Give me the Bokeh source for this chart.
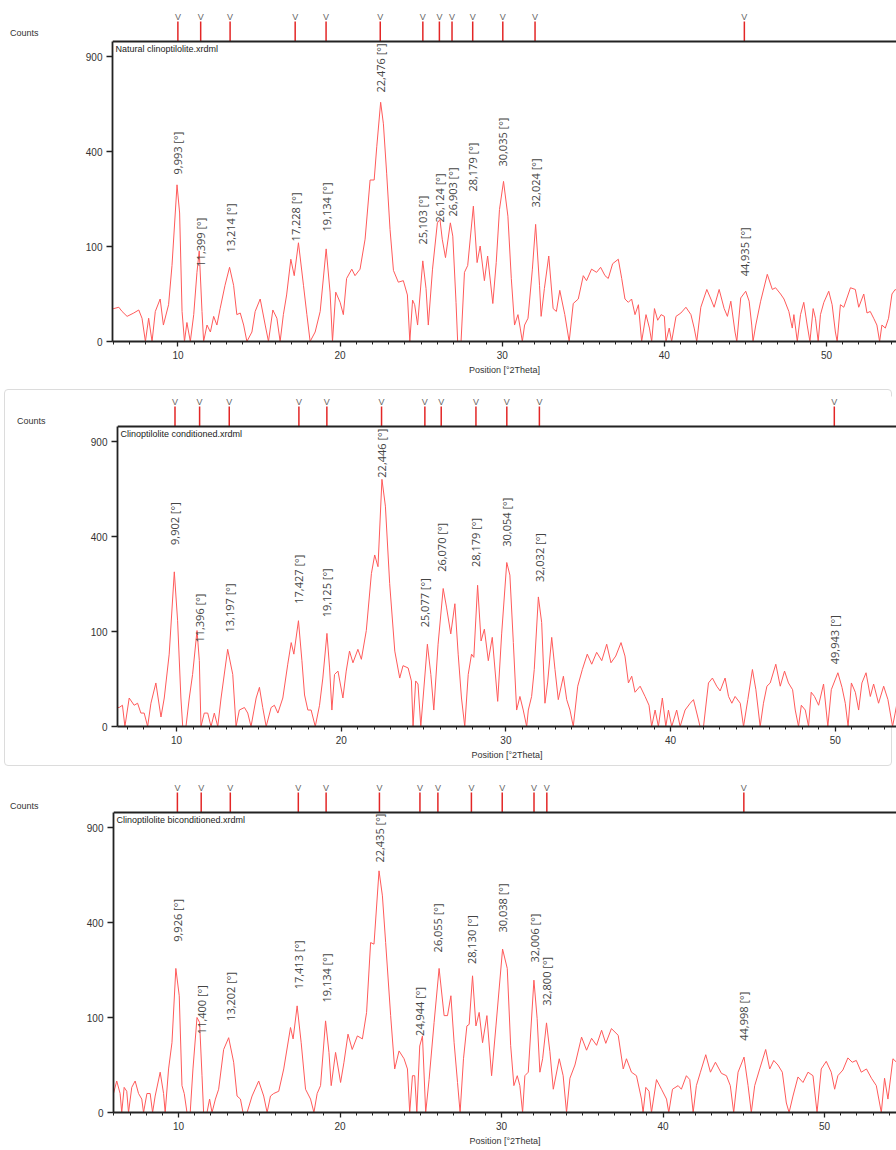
import numpy as np
from bokeh.plotting import figure
from bokeh.models import Range1d, FixedTicker, Span, Label, Div
from bokeh.layouts import column, row
from bokeh.core.properties import value
from bokeh.embed import file_html
from bokeh.resources import INLINE

# ---------------- data (2Theta in degrees, intensity in counts) ----------------
titles = ["Natural clinoptilolite.xrdml",
          "Clinoptilolite conditioned.xrdml",
          "Clinoptilolite biconditioned.xrdml"]

# Panel 1 : natural clinoptilolite
tt1 = [5.96, 6.04, 6.35, 6.55, 6.86, 7.27, 7.58, 7.78, 7.99, 8.19, 8.40, 8.60, 8.90, 9.10, 9.42, 9.63, 9.94,
       10.10, 10.25, 10.40, 10.55, 10.76, 10.97, 11.17, 11.31, 11.48, 11.58, 11.79, 12.00, 12.20, 12.40, 12.60,
       12.90, 13.18, 13.43, 13.63, 13.84, 14.05, 14.25, 14.56, 14.76, 15.07, 15.38, 15.58, 15.85, 16.10, 16.30,
       16.50, 16.70, 16.96, 17.17, 17.43, 17.74, 17.95, 18.15, 18.46, 18.77, 19.14, 19.38, 19.53, 19.73, 20.00,
       20.20, 20.40, 20.72, 20.92, 21.23, 21.54, 21.85, 22.10, 22.26, 22.50, 22.67, 22.87, 23.08, 23.29, 23.59,
       23.90, 24.15, 24.30, 24.47, 24.60, 24.78, 25.10, 25.30, 25.44, 25.70, 26.00, 26.16, 26.30, 26.50, 26.80,
       26.95, 27.15, 27.25, 27.46, 27.67, 27.87, 28.22, 28.45, 28.64, 28.90, 29.10, 29.42, 29.63, 29.83, 30.08,
       30.35, 30.56, 30.76, 30.97, 31.11, 31.24, 31.38, 31.59, 31.86, 32.06, 32.30, 32.40, 32.60, 32.87, 33.14,
       33.34, 33.55, 33.86, 34.13, 34.38, 34.69, 35.00, 35.20, 35.51, 35.82, 36.07, 36.34, 36.54, 36.81, 37.16,
       37.37, 37.57, 37.78, 37.98, 38.19, 38.40, 38.60, 38.87, 39.08, 39.22, 39.39, 39.59, 39.80, 40.00, 40.10,
       40.30, 40.45, 40.72, 41.02, 41.33, 41.64, 41.84, 42.00, 42.25, 42.62, 42.87, 43.07, 43.38, 43.69, 43.89,
       44.10, 44.36, 44.47, 44.71, 45.02, 45.23, 45.39, 45.47, 45.64, 45.94, 46.35, 46.66, 46.86, 47.17, 47.38,
       47.68, 47.89, 47.99, 48.20, 48.40, 48.60, 48.81, 48.98, 49.18, 49.32, 49.49, 49.63, 49.84, 50.14, 50.35,
       50.55, 50.66, 50.86, 51.07, 51.48, 51.78, 51.99, 52.30, 52.50, 52.70, 52.91, 53.11, 53.28, 53.42, 53.63,
       53.83, 54.04, 54.24, 54.35]
cnt1 = [12, 12, 13, 10, 7, 9, 11, 6, 0, 6, 0, 10, 20, 3, 15, 64, 272,
        183, 10, 0, 4, 0, 8, 53, 91, 10, 0, 3, 1, 7, 3, 12,
        35, 61, 35, 8, 9, 3, 0, 1, 10, 20, 3, 0, 11, 6, 0,
        8, 24, 75, 48, 108, 35, 8, 0, 1, 10, 95, 27, 0, 27, 17,
        8, 44, 58, 48, 58, 116, 289, 289, 420, 634, 525, 314, 139, 56, 39,
        41, 24, 0, 19, 15, 3, 72, 31, 3, 58, 156, 165, 116, 78, 156,
        123, 17, 0, 0, 53, 64, 203, 69, 101, 41, 81, 16, 69, 193, 284,
        174, 44, 3, 8, 2, 0, 3, 6, 58, 152, 35, 7, 31, 81, 12,
        10, 29, 8, 0, 16, 20, 48, 41, 58, 53, 61, 48, 44, 67, 75,
        44, 20, 17, 20, 8, 15, 0, 8, 2, 0, 12, 5, 8, 7, 0,
        2, 0, 7, 9, 13, 8, 2, 0, 13, 30, 20, 13, 30, 12, 7,
        18, 1, 0, 21, 28, 18, 3, 0, 3, 18, 50, 30, 32, 25, 20,
        10, 2, 8, 0, 8, 17, 3, 0, 12, 6, 0, 8, 17, 28, 15,
        1, 0, 15, 13, 32, 30, 13, 25, 9, 10, 6, 3, 0, 3, 2,
        6, 25, 30, 28]
peaks1 = [9.993, 11.399, 13.214, 17.228, 19.134, 22.476, 25.103, 26.124, 26.903, 28.179, 30.035, 32.024, 44.935]
peak_cnt1 = [309, 62, 88, 111, 134, 687, 104, 157, 173, 249, 339, 199, 47]

# Panel 2 : conditioned
tt2 = [6.41, 6.51, 6.71, 6.86, 7.12, 7.42, 7.63, 7.83, 8.03, 8.24, 8.44, 8.74, 9.05, 9.25, 9.55, 9.86,
       10.06, 10.26, 10.37, 10.57, 10.77, 10.97, 11.24, 11.38, 11.48, 11.68, 11.89, 12.09, 12.29, 12.50, 12.70,
       13.10, 13.41, 13.61, 13.81, 14.12, 14.32, 14.52, 14.83, 15.03, 15.23, 15.44, 15.74, 15.94, 16.15, 16.45,
       16.75, 16.96, 17.12, 17.40, 17.61, 17.77, 17.97, 18.17, 18.42, 18.68, 18.88, 19.13, 19.29, 19.43, 19.59,
       19.80, 20.10, 20.30, 20.50, 20.71, 21.01, 21.22, 21.52, 21.83, 22.03, 22.23, 22.47, 22.68, 22.94, 23.25,
       23.55, 23.75, 24.06, 24.26, 24.36, 24.52, 24.66, 24.83, 24.97, 25.23, 25.44, 25.62, 25.88, 26.19, 26.39,
       26.65, 26.90, 27.10, 27.30, 27.50, 27.71, 27.91, 28.05, 28.28, 28.49, 28.69, 28.93, 29.17, 29.50, 29.74,
       30.05, 30.24, 30.45, 30.65, 30.85, 31.05, 31.26, 31.36, 31.56, 31.72, 31.97, 32.17, 32.37, 32.53, 32.78,
       32.98, 33.18, 33.49, 33.69, 33.89, 34.09, 34.36, 34.64, 34.94, 35.21, 35.51, 35.82, 36.12, 36.38, 36.67,
       36.99, 37.23, 37.44, 37.64, 37.84, 38.15, 38.45, 38.69, 38.85, 39.06, 39.26, 39.50, 39.71, 39.87, 40.07,
       40.37, 40.58, 40.88, 41.19, 41.39, 41.65, 41.79, 42.00, 42.30, 42.54, 42.80, 43.01, 43.31, 43.52, 43.72,
       43.92, 44.23, 44.43, 44.69, 44.97, 45.18, 45.44, 45.64, 45.85, 46.05, 46.39, 46.66, 46.92, 47.16, 47.41,
       47.57, 47.77, 47.94, 48.18, 48.38, 48.54, 48.74, 48.99, 49.29, 49.55, 49.76, 50.16, 50.41, 50.61, 50.78,
       50.98, 51.22, 51.42, 51.62, 51.87, 52.13, 52.33, 52.63, 52.94, 53.20, 53.48, 53.64, 53.75]
cnt2 = [4, 4, 5, 0, 9, 5, 6, 2, 2, 0, 6, 21, 1, 9, 58, 265,
        124, 9, 0, 0, 9, 30, 102, 48, 0, 2, 2, 0, 2, 0, 9,
        66, 30, 0, 3, 4, 2, 0, 9, 17, 4, 0, 4, 5, 2, 9,
        43, 78, 58, 124, 48, 11, 3, 3, 0, 5, 26, 96, 38, 3, 30,
        34, 9, 34, 63, 45, 66, 50, 102, 259, 326, 283, 677, 538, 226, 63,
        26, 41, 38, 23, 0, 23, 20, 0, 9, 75, 30, 3, 75, 211, 158,
        95, 167, 58, 9, 0, 30, 58, 53, 221, 81, 105, 48, 88, 7, 95,
        298, 254, 78, 3, 10, 3, 0, 3, 10, 36, 186, 120, 6, 21, 88,
        36, 8, 28, 8, 3, 0, 18, 36, 58, 43, 61, 48, 75, 45, 55,
        78, 55, 21, 28, 13, 18, 10, 5, 0, 3, 0, 9, 0, 3, 0,
        3, 0, 3, 6, 8, 1, 0, 0, 21, 26, 18, 14, 26, 10, 6,
        10, 6, 0, 8, 36, 15, 0, 6, 18, 21, 43, 18, 34, 21, 15,
        3, 0, 5, 3, 0, 13, 10, 5, 20, 0, 15, 32, 17, 6, 0,
        21, 13, 3, 21, 32, 10, 20, 6, 18, 8, 0, 2, 6]
peaks2 = [9.902, 11.396, 13.197, 17.427, 19.125, 22.446, 25.077, 26.070, 28.179, 30.054, 32.032, 49.943]
peak_cnt2 = [365, 78, 98, 167, 132, 686, 109, 265, 282, 358, 231, 43]

# Panel 3 : biconditioned
tt3 = [5.97, 6.17, 6.38, 6.48, 6.63, 6.79, 6.90, 7.10, 7.31, 7.52, 7.72, 7.83, 8.04, 8.24, 8.39, 8.55, 8.86,
       9.07, 9.17, 9.38, 9.59, 9.83, 10.04, 10.21, 10.35, 10.52, 10.72, 10.89, 11.14, 11.30, 11.45, 11.55, 11.76,
       11.92, 12.07, 12.28, 12.48, 12.79, 13.10, 13.41, 13.62, 13.83, 13.99, 14.24, 14.55, 14.96, 15.27, 15.48,
       15.69, 15.89, 16.20, 16.51, 16.93, 17.09, 17.34, 17.59, 17.86, 18.17, 18.38, 18.58, 18.79, 19.10, 19.31,
       19.45, 19.72, 20.03, 20.24, 20.49, 20.75, 21.07, 21.38, 21.64, 21.89, 22.10, 22.41, 22.62, 22.82, 23.13,
       23.38, 23.65, 23.96, 24.17, 24.31, 24.48, 24.62, 24.75, 24.93, 25.10, 25.30, 25.51, 25.82, 26.13, 26.44,
       26.65, 26.86, 27.06, 27.27, 27.43, 27.64, 27.85, 27.99, 28.20, 28.41, 28.61, 28.82, 29.09, 29.38, 29.65,
       30.06, 30.35, 30.56, 30.76, 30.97, 31.13, 31.30, 31.44, 31.65, 32.00, 32.20, 32.37, 32.54, 32.78, 32.99,
       33.20, 33.57, 33.81, 34.02, 34.23, 34.54, 34.95, 35.26, 35.57, 35.88, 36.19, 36.45, 36.80, 37.22, 37.53,
       37.73, 38.04, 38.35, 38.66, 38.76, 38.93, 39.13, 39.28, 39.59, 39.90, 40.21, 40.35, 40.58, 40.93, 41.13,
       41.44, 41.65, 41.86, 42.06, 42.31, 42.64, 42.93, 43.24, 43.61, 43.92, 44.16, 44.37, 44.64, 45.01, 45.26,
       45.46, 45.67, 45.98, 46.35, 46.60, 46.85, 47.11, 47.38, 47.63, 47.80, 48.04, 48.35, 48.66, 48.97, 49.28,
       49.53, 49.79, 50.10, 50.41, 50.62, 50.82, 51.13, 51.44, 51.71, 51.96, 52.27, 52.59, 52.90, 53.20, 53.51,
       53.71, 53.92, 54.23, 54.45]
cnt3 = [4, 11, 4, 0, 7, 5, 0, 7, 11, 4, 2, 0, 4, 4, 0, 3, 18,
        4, 0, 21, 54, 230, 151, 8, 4, 0, 0, 21, 100, 90, 15, 0, 0,
        2, 0, 2, 6, 44, 62, 28, 3, 2, 0, 0, 3, 11, 3, 0,
        3, 4, 5, 21, 80, 60, 126, 54, 6, 2, 0, 4, 8, 93, 40,
        8, 40, 10, 28, 68, 44, 65, 60, 111, 320, 314, 647, 520, 320, 104,
        21, 42, 32, 21, 0, 15, 15, 0, 49, 65, 0, 12, 90, 230, 104,
        104, 151, 54, 10, 0, 32, 83, 86, 207, 83, 111, 54, 104, 15, 83,
        296, 230, 50, 8, 15, 8, 0, 15, 18, 194, 98, 18, 32, 89, 41,
        6, 32, 15, 0, 13, 25, 63, 43, 61, 50, 75, 53, 78, 66, 21,
        32, 18, 15, 2, 0, 7, 5, 0, 12, 6, 2, 0, 6, 8, 6,
        15, 12, 0, 8, 18, 37, 18, 28, 17, 15, 8, 0, 18, 34, 8,
        0, 8, 21, 44, 21, 30, 25, 18, 1, 0, 3, 14, 10, 18, 15,
        0, 21, 29, 18, 6, 15, 20, 33, 28, 30, 18, 21, 13, 8, 0,
        13, 2, 32, 28]
peaks3 = [9.926, 11.400, 13.202, 17.413, 19.134, 22.435, 24.944, 26.055, 28.130, 30.038, 32.006, 32.800, 44.998]
peak_cnt3 = [323, 68, 93, 168, 134, 692, 65, 284, 244, 359, 249, 126, 57]

x_extents = [(5.96, 54.32), (6.41, 53.72), (5.97, 54.45)]
y_tick_counts = [0, 100, 400, 900]
x_major = [10, 20, 30, 40, 50]

# ---------------- styling / layout constants ----------------
PX = 9.5            # pixels per sqrt(count) unit
FRAME_PX = 300      # height of boxed plot frame
CURVE = "#ff5a5a"
STICK = "#e32626"
INK = "#222222"
FONT = "Liberation Sans"
CAP_W = 60          # width of the "Counts" caption column


def make_panel(i, tt, cnt, peaks, pcnt, frame_left, top, plot_h, bottom, counts_x, counts_top,
               transparent_border=False):
    s_top = plot_h / PX
    s_f = FRAME_PX / PX
    xr = x_extents[i]
    h = top + plot_h + bottom
    p = figure(width=896 - CAP_W, height=h,
               x_range=Range1d(*xr), y_range=Range1d(0, s_top),
               output_backend="svg", toolbar_location=None,
               min_border_left=frame_left - CAP_W, min_border_right=0,
               min_border_top=top, min_border_bottom=bottom, margin=0)
    p.outline_line_color = None
    p.grid.visible = False
    p.background_fill_color = "white"
    if transparent_border:
        p.border_fill_color = None
    else:
        p.border_fill_color = "white"

    # axes
    p.xaxis.ticker = FixedTicker(ticks=x_major, minor_ticks=list(range(6, 55)))
    p.xaxis.axis_label = "Position [°2Theta]"
    p.xaxis.axis_label_text_font = FONT
    p.xaxis.axis_label_text_font_size = "9px"
    p.xaxis.axis_label_text_font_style = "normal"
    p.xaxis.axis_label_text_color = "#333333"
    p.xaxis.axis_label_standoff = 3
    p.xaxis.major_label_standoff = 4
    p.xaxis.major_tick_in = 0
    p.xaxis.major_tick_out = 5
    p.xaxis.minor_tick_in = 0
    p.xaxis.minor_tick_out = 3

    p.yaxis.ticker = FixedTicker(ticks=[float(np.sqrt(v)) for v in y_tick_counts], minor_ticks=[])
    p.yaxis.major_label_overrides = {float(np.sqrt(v)): str(v) for v in y_tick_counts}
    p.yaxis.bounds = (0, s_f)
    p.yaxis.major_tick_in = 0
    p.yaxis.major_tick_out = 6
    p.yaxis.major_label_standoff = 4

    for ax in (p.xaxis[0], p.yaxis[0]):
        ax.axis_line_color = INK
        ax.axis_line_width = 1.8
        ax.major_tick_line_color = INK
        ax.major_tick_line_width = 1.3
        ax.minor_tick_line_color = INK
        ax.major_label_text_font = FONT
        ax.major_label_text_font_size = "10px"
        ax.major_label_text_color = "#333333"

    # frame top line
    p.add_layout(Span(location=s_f, dimension="width", line_color=INK, line_width=1.8))

    # diffraction pattern (square-root intensity scale)
    p.line(tt, np.sqrt(np.array(cnt, dtype=float)), line_color=CURVE, line_width=1)

    # peak list sticks above the frame
    stick_h = 20 / PX
    n = len(peaks)
    p.segment(x0=peaks, y0=[s_f] * n, x1=peaks, y1=[s_f + stick_h] * n,
              line_color=STICK, line_width=1.5)
    p.text(x=peaks, y=[s_f + stick_h - 0.1] * n, text=["V"] * n,
           text_align="center", text_baseline="bottom",
           text_font=value(FONT), text_font_size="9px", text_color="#666666")

    # peak position labels
    labels = [f"{v:.3f}".replace(".", ",") + " [°]" for v in peaks]
    p.text(x=peaks, y=np.sqrt(np.array(pcnt, dtype=float)), text=labels, angle=np.pi / 2,
           text_align="left", text_baseline="middle",
           text_font=value("Open Sans"), text_font_size="11px", text_color="#444444")

    # file name in the frame corner
    p.add_layout(Label(x=xr[0], y=s_f, x_offset=3, y_offset=-2, text=titles[i],
                       text_baseline="top", text_align="left",
                       text_font=FONT, text_font_size="9px", text_color=INK))

    # "Counts" caption left of the axis
    cap = Div(width=CAP_W, height=h, margin=0,
              text=('<div style="position:absolute; left:%dpx; top:%dpx; '
                    'font-family:\'Liberation Sans\'; font-size:9px; color:#333; '
                    'white-space:nowrap;">Counts</div>') % (counts_x, counts_top))
    return row(cap, p, spacing=0)


r1 = make_panel(0, tt1, cnt1, peaks1, peak_cnt1, frame_left=112, top=10, plot_h=331, bottom=44,
                counts_x=10, counts_top=27)
r2 = make_panel(1, tt2, cnt2, peaks2, peak_cnt2, frame_left=117, top=11, plot_h=330, bottom=44,
                counts_x=17, counts_top=30, transparent_border=True)
r3 = make_panel(2, tt3, cnt3, peaks3, peak_cnt3, frame_left=113, top=11, plot_h=331, bottom=38,
                counts_x=10, counts_top=30)
r2.styles = {"outline": "1px solid #dcdcdc", "outline-offset": "-5px", "border-radius": "8px"}

layout = column(r1, r2, r3, spacing=0)
open("out.html", "w").write(file_html(layout, INLINE))
